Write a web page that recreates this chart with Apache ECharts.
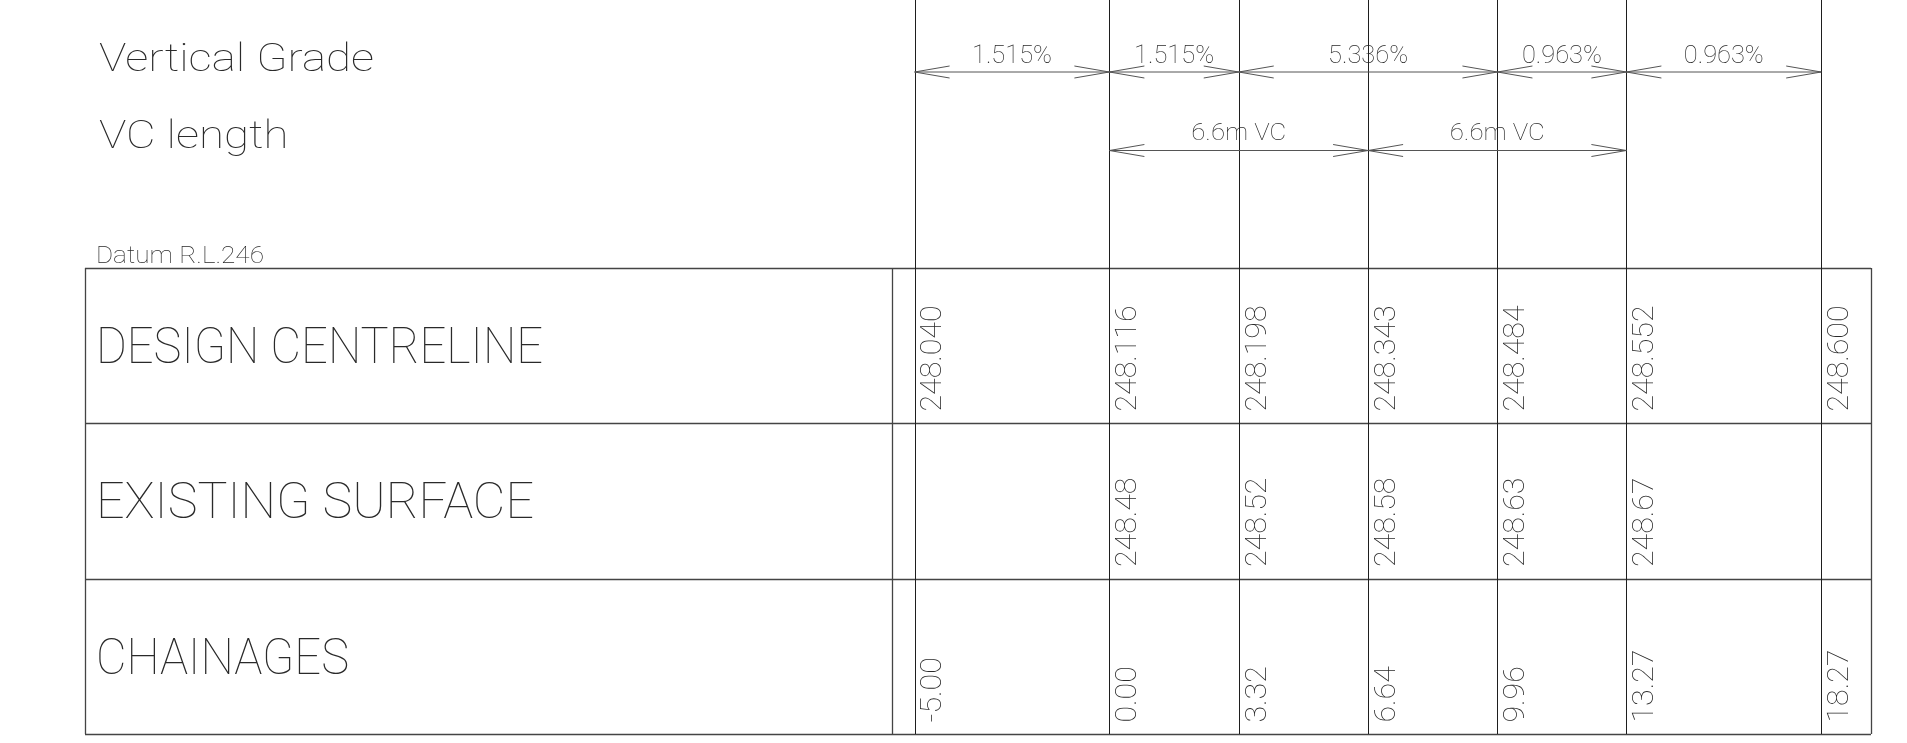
<!DOCTYPE html>
<html><head><meta charset="utf-8">
<script src="https://cdn.jsdelivr.net/npm/echarts@6/dist/echarts.min.js"></script>
<style>html,body{margin:0;padding:0;background:#fff}#c{width:1907px;height:743px}</style>
</head><body><div id="c"></div>
<script>
// ---------- data ----------
const chainages = [-5.00, 0.00, 3.32, 6.64, 9.96, 13.27, 18.27];
const designLevels = [248.040, 248.116, 248.198, 248.343, 248.484, 248.552, 248.600];
const existingLevels = [null, 248.48, 248.52, 248.58, 248.63, 248.67, null];
const gradeStart = [-5.00, 0.00, 3.32, 9.96, 13.27];
const gradeEnd = [0.00, 3.32, 9.96, 13.27, 18.27];
const gradeLabels = ['1.515%', '1.515%', '5.336%', '0.963%', '0.963%'];
const vcStart = [0.00, 6.64];
const vcEnd = [6.64, 13.27];
const vcLabels = ['6.6m VC', '6.6m VC'];
const rowTitles = ['DESIGN CENTRELINE', 'EXISTING SURFACE', 'CHAINAGES'];
const headTitles = ['Vertical Grade', 'VC length'];
const datumLabel = 'Datum R.L.246';

// ---------- layout / style ----------
const L = {
  gridLeft: 914.6, gridRight: 85.8,
  gradeY: 72, gradeTextY: 53.8,
  vcY: 150.5, vcTextY: 131.3,
  rows: [268, 423, 578.5, 734],
  tableLeft: 85, inner: 892, tableRight: 1871,
  numOffsetX: 16.5, numOffsetBottom: 11.5,
  arrowLen: 35, arrowHalf: 6,
  rowTitleX: 96, rowTitleW: [447, 438, 253],
  headX: 99
};
const FF = 'Roboto';
const W = 100;
const TEXT = '#2a2a2a';
const LINE_DARK = '#1e1e1e';
const LINE_GRAY = '#555';
const TABLE_LINE = '#444';
const MID_FIX = 0.1; // em offset between canvas 'middle' and cap middle

const mctx = document.createElement('canvas').getContext('2d');
function measure(t, size) { mctx.font = W + ' ' + size + 'px ' + FF; return mctx.measureText(t).width; }
const CAP = 0.711;
function fit(text, cap, width) { const size = cap / CAP; return { size: size, sx: width / measure(text, size) }; }

const numFit = fit('248.040', 21, 106);
const topFit = fit('0.963%', 17.7, 80);
const vcFit = fit('6.6m VC', 17.3, 95);
const headFit = fit(headTitles[0], 27, 275);
const datumFit = fit(datumLabel, 16.7, 168);

function txt(text, x, y, f, align, rot) {
  const d = MID_FIX * f.size;
  return {
    type: 'text', x: rot ? x + d : x, y: rot ? y : y + d, rotation: rot || 0, scaleX: f.sx,
    style: { text: text, fontFamily: FF, fontSize: f.size, fontWeight: W, fill: TEXT,
             align: align || 'left', verticalAlign: 'middle' }
  };
}
function seg(x1, y1, x2, y2, color, w) {
  return { type: 'line', shape: { x1: x1, y1: y1, x2: x2, y2: y2 }, style: { stroke: color, lineWidth: w } };
}
const px = v => Math.round(v) + 0.5;

function dimension(api, s, e, y, label, textY, f) {
  const x1 = api.coord([s, y])[0], x2 = api.coord([e, y])[0];
  const yy = api.coord([s, y])[1];
  const ty = api.coord([s, textY])[1];
  return {
    type: 'group',
    children: [
      seg(x1, yy, x2, yy, LINE_GRAY, 1),
      { type: 'polyline', shape: { points: [[x1 + L.arrowLen, yy - L.arrowHalf], [x1, yy], [x1 + L.arrowLen, yy + L.arrowHalf]] }, style: { stroke: LINE_GRAY, lineWidth: 1, fill: null } },
      { type: 'polyline', shape: { points: [[x2 - L.arrowLen, yy - L.arrowHalf], [x2, yy], [x2 - L.arrowLen, yy + L.arrowHalf]] }, style: { stroke: LINE_GRAY, lineWidth: 1, fill: null } },
      txt(label, (x1 + x2) / 2, ty, f, 'center')
    ]
  };
}

// static frame
const graphic = [];
L.rows.forEach(y => graphic.push({ type: 'line', shape: { x1: L.tableLeft, y1: px(y), x2: L.tableRight, y2: px(y) }, style: { stroke: TABLE_LINE, lineWidth: 1.3 } }));
[L.tableLeft, L.inner, L.tableRight].forEach(x => graphic.push({ type: 'line', shape: { x1: px(x), y1: L.rows[0], x2: px(x), y2: L.rows[3] }, style: { stroke: TABLE_LINE, lineWidth: 1.3 } }));
rowTitles.forEach((t, i) => {
  graphic.push(txt(t, L.rowTitleX, (L.rows[i] + L.rows[i + 1]) / 2, fit(t, 36, L.rowTitleW[i]), 'left'));
});
graphic.push(txt(headTitles[0], L.headX, 58.2, headFit, 'left'));
graphic.push(txt(headTitles[1], L.headX, 134.8, headFit, 'left'));
graphic.push(txt(datumLabel, 96, 255, datumFit, 'left'));

const chart = echarts.init(document.getElementById('c'), null, { renderer: 'canvas' });
chart.setOption({
  animation: false,
  backgroundColor: '#fff',
  grid: { left: L.gridLeft, right: L.gridRight, top: 0, bottom: 0 },
  xAxis: { type: 'value', min: chainages[0], max: chainages[chainages.length - 1], show: false },
  yAxis: { type: 'value', min: 0, max: 743, inverse: true, show: false },
  graphic: graphic,
  series: [
    {
      type: 'custom', clip: false,
      data: chainages.map((c, i) => [c, i]),
      renderItem: function (params, api) {
        const c = api.value(0), i = api.value(1);
        const top = api.coord([c, 0]);
        const bot = api.coord([c, L.rows[3]]);
        const x = px(top[0]);
        const children = [seg(x, top[1], x, bot[1], LINE_DARK, 1)];
        const tx = top[0] + L.numOffsetX;
        const rot = Math.PI / 2;
        children.push(txt(designLevels[i].toFixed(3), tx, api.coord([c, L.rows[1] - L.numOffsetBottom])[1], numFit, 'left', rot));
        if (existingLevels[i] != null) {
          children.push(txt(existingLevels[i].toFixed(2), tx, api.coord([c, L.rows[2] - L.numOffsetBottom])[1], numFit, 'left', rot));
        }
        children.push(txt(c.toFixed(2), tx, api.coord([c, L.rows[3] - L.numOffsetBottom])[1], numFit, 'left', rot));
        return { type: 'group', children: children };
      }
    },
    {
      type: 'custom', clip: false,
      data: gradeStart.map((s, i) => [s, gradeEnd[i], i]),
      renderItem: function (params, api) {
        return dimension(api, api.value(0), api.value(1), L.gradeY, gradeLabels[api.value(2)], L.gradeTextY, topFit);
      }
    },
    {
      type: 'custom', clip: false,
      data: vcStart.map((s, i) => [s, vcEnd[i], i]),
      renderItem: function (params, api) {
        return dimension(api, api.value(0), api.value(1), L.vcY, vcLabels[api.value(2)], L.vcTextY, vcFit);
      }
    }
  ]
});
</script>
</body></html>
